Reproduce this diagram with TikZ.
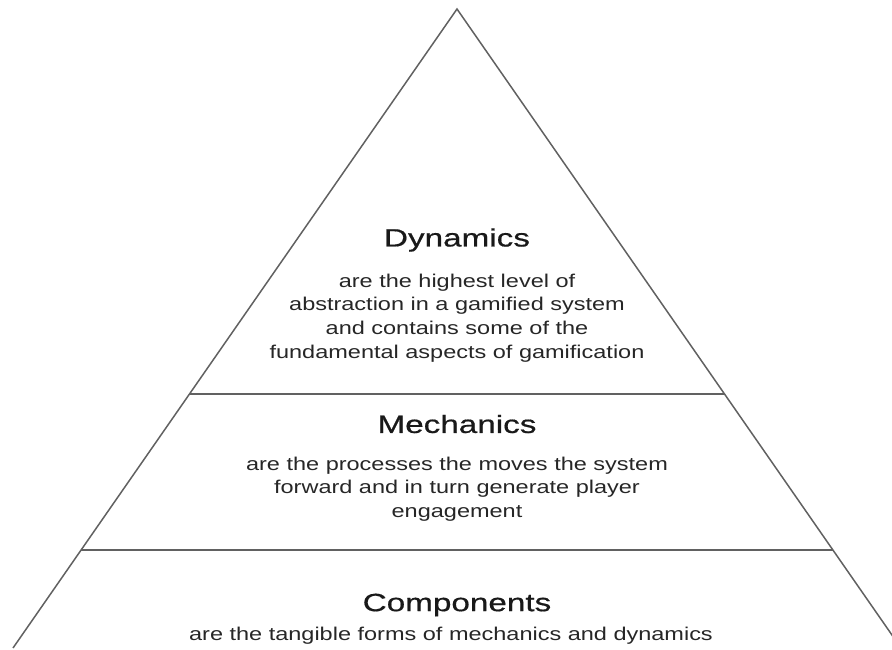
\documentclass[tikz,border=0pt]{standalone}
\usepackage{fontspec}
\setmainfont[FakeStretch=1.27]{Liberation Sans}
\newfontfamily\headfont[FakeStretch=1.33, FakeBold=0.6]{Liberation Sans}
\usepackage{tikz}
\usetikzlibrary{calc, positioning}

\begin{document}
\begin{tikzpicture}[
    x=1pt,
    y=-1pt,
    edge/.style={draw=black!62, line width=1.5pt},
    title/.style={font=\headfont\fontsize{25}{30}\selectfont, text=black!90},
    body/.style={align=center, font=\fontsize{18.5}{23.7}\selectfont, text=black!85}
]
  \useasboundingbox (0,0) rectangle (892,649);
  \clip (0,0) rectangle (892,649);

  % Outline of the pyramid
  \coordinate (apex) at (457,9);
  \coordinate (bl)   at (13,648);
  \coordinate (br)   at (901,648);
  \draw[edge, line join=miter] (bl) -- (apex) -- (br);

  % Layer borders
  \coordinate (l1) at ($(apex)!0.6025!(bl)$);
  \coordinate (r1) at ($(apex)!0.6025!(br)$);
  \coordinate (l2) at ($(apex)!0.8466!(bl)$);
  \coordinate (r2) at ($(apex)!0.8466!(br)$);
  \draw[edge] (l1) -- (r1);
  \draw[edge] (l2) -- (r2);

  % Top layer
  \node[title] (dyn) at (457,240) {Dynamics};
  \node[body] (dynText) at (457,318) {are the highest level of\\abstraction in a gamified system\\and contains some of the\\fundamental aspects of gamification};

  % Middle layer
  \node[title] (mech) at (457,424) {Mechanics};
  \node[body] (mechText) at (457,489) {are the processes the moves the system\\forward and in turn generate player\\engagement};

  % Bottom layer
  \node[title] (comp) at (457,605) {Components};
  \node[body] (compText) at (451,636) {are the tangible forms of mechanics and dynamics};
\end{tikzpicture}
\end{document}
